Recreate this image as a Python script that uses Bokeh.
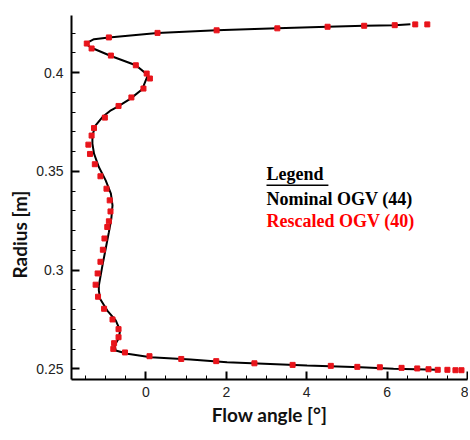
from bokeh.plotting import figure
from bokeh.models import Range1d, FixedTicker, Label, Title
from bokeh.embed import file_html
from bokeh.resources import INLINE

# Nominal OGV (44) - black line
nominal_angle = [7.24, 6.16, 5.34, 4.01, 2.02, 1.11, 0.12, -0.46, -0.75, -0.78,
                 -0.68, -0.64, -0.75, -0.96, -1.14, -1.17, -1.17, -1.08, -1.00, -0.92,
                 -0.86, -0.83, -0.87, -1.00, -1.17, -1.29, -1.33, -1.33, -1.25, -1.08,
                 -0.87, -0.71, -0.38, -0.09, 0.05, -0.25, -0.87, -1.37, -1.50, -1.29,
                 -0.92, 0.29, 1.76, 3.27, 4.52, 5.43, 6.19, 6.58]
nominal_radius = [0.2495, 0.2500, 0.2508, 0.2517, 0.2533, 0.2547, 0.2559, 0.2576, 0.2593, 0.2618,
                  0.2652, 0.2694, 0.2745, 0.2795, 0.2855, 0.2897, 0.2922, 0.3024, 0.3108, 0.3192,
                  0.3260, 0.3328, 0.3387, 0.3454, 0.3522, 0.3590, 0.3640, 0.3682, 0.3733, 0.3775,
                  0.3809, 0.3826, 0.3868, 0.3916, 0.3987, 0.4037, 0.4084, 0.4127, 0.4147, 0.4169,
                  0.4178, 0.4201, 0.4214, 0.4224, 0.4232, 0.4237, 0.4240, 0.4245]

# Rescaled OGV (40) - red squares
rescaled_angle = [7.85, 7.70, 7.50, 7.26, 7.03, 6.75, 6.36, 5.82, 5.26, 4.60,
                  3.65, 2.70, 1.75, 0.88, 0.09, -0.52, -0.81, -0.79, -0.68, -0.68,
                  -0.83, -1.04, -1.19, -1.25, -1.20, -1.13, -1.07, -1.03, -0.96, -0.92,
                  -0.88, -0.90, -0.98, -1.13, -1.27, -1.39, -1.43, -1.35, -1.29, -1.02,
                  -0.68, -0.36, -0.06, 0.10, 0.02, -0.25, -0.87, -1.35, -1.47, -0.92,
                  0.29, 1.76, 3.27, 4.52, 5.43, 6.19, 6.70, 7.00]
rescaled_radius = [0.2493, 0.2493, 0.2495, 0.2495, 0.2498, 0.2502, 0.2505, 0.2508, 0.2510, 0.2515,
                   0.2520, 0.2528, 0.2539, 0.2550, 0.2564, 0.2583, 0.2601, 0.2630, 0.2660, 0.2701,
                   0.2750, 0.2804, 0.2865, 0.2926, 0.2983, 0.3042, 0.3103, 0.3160, 0.3218, 0.3247,
                   0.3297, 0.3353, 0.3412, 0.3475, 0.3536, 0.3588, 0.3635, 0.3681, 0.3719, 0.3772,
                   0.3831, 0.3874, 0.3919, 0.3970, 0.3995, 0.4037, 0.4086, 0.4122, 0.4147, 0.4178,
                   0.4201, 0.4214, 0.4224, 0.4232, 0.4237, 0.4240, 0.4244, 0.4244]

x_ticks = [0, 2, 4, 6, 8]
x_minor = [-1.5, -1.0, -0.5, 0.5, 1.0, 1.5, 2.5, 3.0, 3.5, 4.5, 5.0, 5.5, 6.5, 7.0, 7.5]
y_ticks = [0.25, 0.3, 0.35, 0.4]
y_tick_labels = ["0.25", "0.3", "0.35", "0.4"]
y_minor = [0.26, 0.27, 0.28, 0.29, 0.31, 0.32, 0.33, 0.34, 0.36, 0.37, 0.38, 0.39, 0.41, 0.42]

x_title = "Flow angle [°]"
y_title = "Radius [m]"
legend_title = "Legend"
legend_names = ["Nominal OGV (44)", "Rescaled OGV (40)"]
legend_colors = ["#000000", "#ff0000"]

p = figure(width=468, height=436, output_backend="svg", toolbar_location=None,
           x_range=Range1d(-1.85, 8.0), y_range=Range1d(0.2446, 0.4289),
           min_border_left=71, min_border_top=15, min_border_right=1, min_border_bottom=57)
p.outline_line_color = None
p.xgrid.visible = False
p.ygrid.visible = False
p.background_fill_color = "white"
p.border_fill_color = "white"

p.line(nominal_angle, nominal_radius, line_color="black", line_width=2)
p.scatter(rescaled_angle, rescaled_radius, marker="square", size=5,
          fill_color="#e8141b", line_color="#e8141b")

for ax in (p.xaxis[0], p.yaxis[0]):
    ax.axis_line_width = 2
    ax.axis_line_color = "black"
    ax.major_tick_in = 8
    ax.major_tick_out = 0
    ax.minor_tick_in = 4
    ax.minor_tick_out = 0
    ax.major_tick_line_width = 2
    ax.minor_tick_line_width = 1
    ax.major_label_text_font = "Liberation Sans"
    ax.major_label_text_font_size = "14px"
    ax.major_label_text_color = "#222222"
    ax.axis_label_text_font = "Lato"
    ax.axis_label_text_font_style = "bold"
    ax.axis_label_text_font_size = "19px"
    ax.axis_label_text_color = "#111111"

p.xaxis.ticker = FixedTicker(ticks=x_ticks, minor_ticks=x_minor)
p.yaxis.ticker = FixedTicker(ticks=y_ticks, minor_ticks=y_minor)
p.yaxis.major_label_overrides = {t: l for t, l in zip(y_ticks, y_tick_labels)}
p.xaxis.axis_label = x_title
p.xaxis.major_label_standoff = 7
p.yaxis.major_label_standoff = 8
p.xaxis.axis_label_standoff = 3

# y-axis title, placed lower than centre as in the original
p.add_layout(Title(text=y_title, align="left", offset=101, standoff=6,
                   text_font="Lato", text_font_style="bold", text_font_size="19px",
                   text_color="#111111"), "left")

# Legend block (text)
p.add_layout(Label(x=3.0, y=0.3487, text=legend_title, text_font="Liberation Serif",
                   text_font_style="bold", text_font_size="18px", text_color="black",
                   text_baseline="middle"))
p.segment(x0=[3.0], y0=[0.3430], x1=[4.54], y1=[0.3430], line_color="black", line_width=1.5)
for i, (name, col) in enumerate(zip(legend_names, legend_colors)):
    p.add_layout(Label(x=3.0, y=0.3361 - 0.0112 * i, text=name, text_font="Liberation Serif",
                       text_font_style="bold", text_font_size="18px", text_color=col,
                       text_baseline="middle"))

open("out.html", "w").write(file_html(p, INLINE))
